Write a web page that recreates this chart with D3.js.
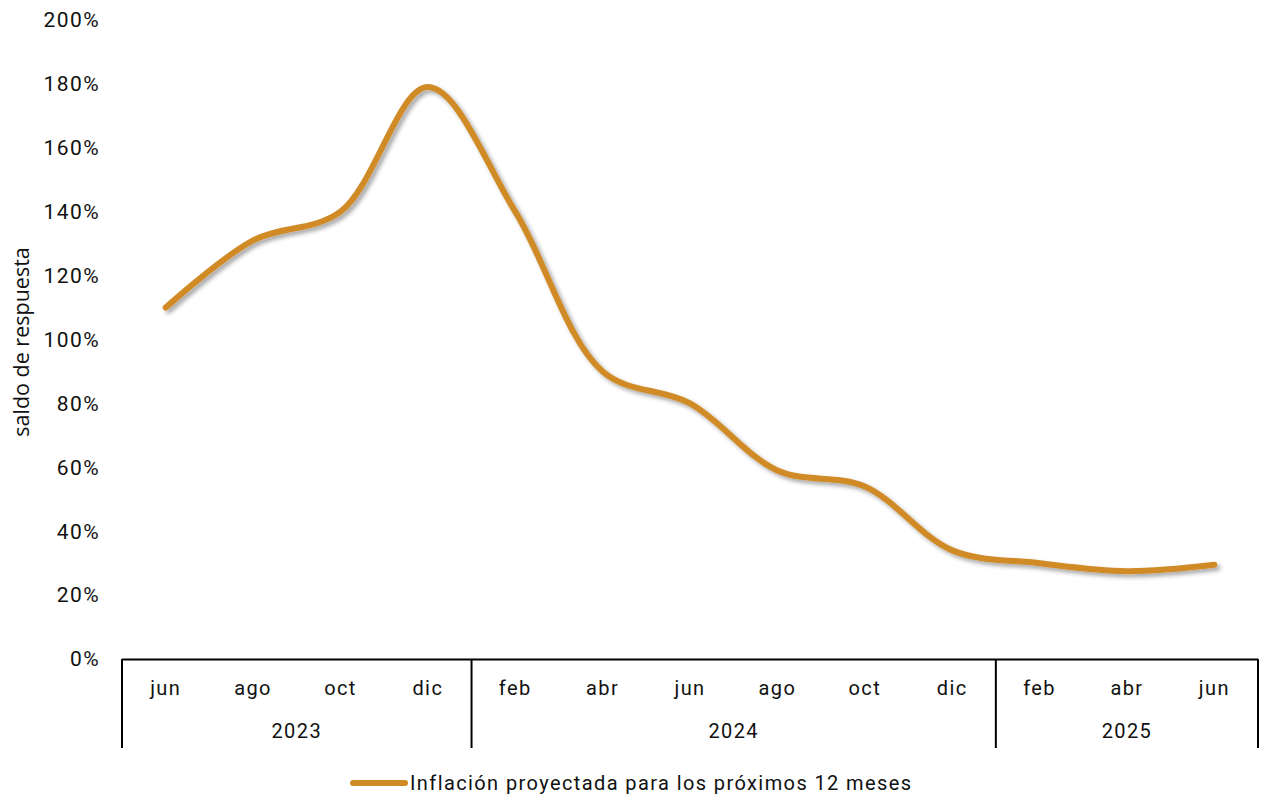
<!DOCTYPE html>
<html>
<head>
<meta charset="utf-8">
<script src="https://cdn.jsdelivr.net/npm/d3@7"></script>
<style>
  body { margin: 0; background: #fff; }
  text { font-family: Roboto, "DejaVu Sans", sans-serif; fill: #111; letter-spacing: 1.4px; }
</style>
</head>
<body>
<div id="grafico"></div>
<script>
// Datos (saldo de respuesta, %)
var meses = ["jun", "ago", "oct", "dic", "feb", "abr", "jun", "ago", "oct", "dic", "feb", "abr", "jun"];
var anios = ["2023", "2023", "2023", "2023", "2024", "2024", "2024", "2024", "2024", "2024", "2025", "2025", "2025"];
var inflacion = [110, 131, 140, 179, 140, 90, 80, 59, 54, 34, 30, 27.5, 29.5];
var ticksY = [0, 20, 40, 60, 80, 100, 120, 140, 160, 180, 200];
var serie = "Inflación proyectada para los próximos 12 meses";

var ancho = 1264, alto = 796;
var margin = {top: 20, right: 6, bottom: 137, left: 122};
var width = ancho - margin.left - margin.right,
    height = alto - margin.top - margin.bottom;

var svg = d3.select("#grafico").append("svg")
    .attr("width", ancho)
    .attr("height", alto);

// sombra de la linea
var defs = svg.append("defs");
defs.append("filter")
    .attr("id", "sombra")
    .attr("x", "-10%").attr("y", "-10%")
    .attr("width", "120%").attr("height", "120%")
  .append("feDropShadow")
    .attr("dx", 3).attr("dy", 3)
    .attr("stdDeviation", 2)
    .attr("flood-color", "#000")
    .attr("flood-opacity", 0.35);

var g = svg.append("g").attr("transform", "translate(" + margin.left + "," + margin.top + ")");

var idx = d3.range(meses.length);
var x = d3.scaleBand().domain(idx).range([0, width]).padding(0);
var y = d3.scaleLinear().domain([0, 200]).range([height, 0]);

// eje y (solo etiquetas)
g.append("g")
  .selectAll("text")
  .data(ticksY)
  .enter().append("text")
  .attr("x", -22)
  .attr("y", function(d) { return y(d); })
  .attr("dy", "0.35em")
  .attr("text-anchor", "end")
  .attr("font-size", 21)
  .text(function(d) { return d + "%"; });

svg.append("text")
  .attr("transform", "translate(29," + 342 + ") rotate(-90)")
  .attr("text-anchor", "middle")
  .style("font-family", "'Open Sans', sans-serif")
  .style("letter-spacing", "0px")
  .attr("font-size", 21.5)
  .text("saldo de respuesta");

// eje x con meses y anios
var ejeX = g.append("g").attr("transform", "translate(0," + height + ")");
ejeX.append("line")
  .attr("x1", 0).attr("x2", width)
  .attr("y1", 0.5).attr("y2", 0.5)
  .attr("stroke", "#000").attr("stroke-width", 2);

ejeX.selectAll("text.mes")
  .data(idx)
  .enter().append("text")
  .attr("class", "mes")
  .attr("x", function(i) { return x(i) + x.bandwidth() / 2; })
  .attr("y", 29)
  .attr("dy", "0.35em")
  .attr("text-anchor", "middle")
  .attr("font-size", 20)
  .text(function(i) { return meses[i]; });

// grupos por anio
var grupos = d3.groups(idx, function(i) { return anios[i]; });
var limites = [0];
grupos.forEach(function(gr) { limites.push(gr[1][gr[1].length - 1] + 1); });

ejeX.selectAll("line.sep")
  .data(limites)
  .enter().append("line")
  .attr("class", "sep")
  .attr("x1", function(k) { return k < meses.length ? x(k) : width; })
  .attr("x2", function(k) { return k < meses.length ? x(k) : width; })
  .attr("y1", 0).attr("y2", 89)
  .attr("stroke", "#000").attr("stroke-width", 2);

ejeX.selectAll("text.anio")
  .data(grupos)
  .enter().append("text")
  .attr("class", "anio")
  .attr("x", function(gr) {
      var a = gr[1][0], b = gr[1][gr[1].length - 1];
      return (x(a) + x(b) + x.bandwidth()) / 2; })
  .attr("y", 72)
  .attr("dy", "0.35em")
  .attr("text-anchor", "middle")
  .attr("font-size", 20)
  .text(function(gr) { return gr[0]; });

// linea suavizada
var linea = d3.line()
  .x(function(d, i) { return x(i) + x.bandwidth() / 2; })
  .y(function(d) { return y(d); })
  .curve(d3.curveCatmullRom.alpha(0.5));

g.append("path")
  .datum(inflacion)
  .attr("d", linea)
  .attr("fill", "none")
  .attr("stroke", "#D08A26")
  .attr("stroke-width", 6)
  .attr("stroke-linecap", "round")
  .attr("stroke-linejoin", "round")
  .attr("filter", "url(#sombra)");

// leyenda
var leyenda = svg.append("g").attr("transform", "translate(353,783)");
leyenda.append("line")
  .attr("x1", 0).attr("x2", 52)
  .attr("stroke", "#D08A26")
  .attr("stroke-width", 6)
  .attr("stroke-linecap", "round");
leyenda.append("text")
  .attr("x", 57)
  .attr("y", 0)
  .attr("dy", "0.35em")
  .attr("font-size", 20)
  .text(serie);
</script>
</body>
</html>
